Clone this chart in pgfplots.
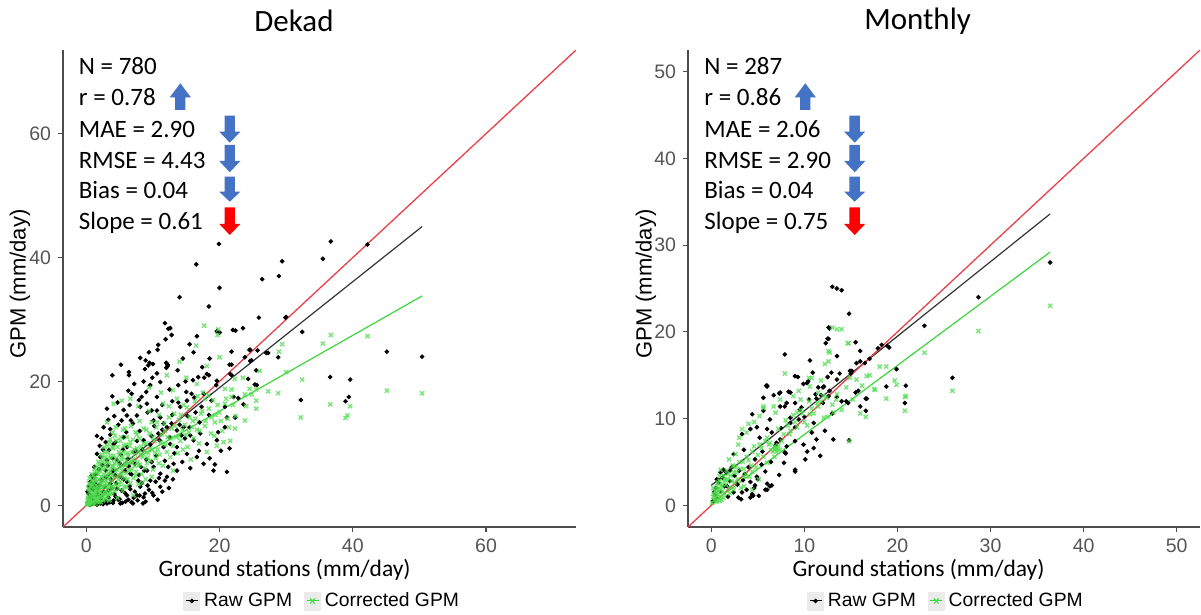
\documentclass[border=0pt]{standalone}
\usepackage{fontspec}
\setmainfont{Carlito}
\newfontfamily\arialfont{Liberation Sans}
\usepackage{pgfplots}
\pgfplotsset{compat=1.18}
\definecolor{axgray}{HTML}{4D4D4D}
\definecolor{tickgray}{HTML}{555555}
\definecolor{ptgreen}{HTML}{4CDC4C}
\definecolor{lngreen}{HTML}{3CD63C}
\definecolor{refred}{HTML}{E8414A}
\definecolor{lnblack}{HTML}{333333}
\definecolor{arrowblue}{HTML}{4472C4}
\definecolor{keybg}{HTML}{EBEBEB}

\newcommand{\annfont}{\fontsize{12.5bp}{14bp}\selectfont}
% arrows: colour, x centre, top, head base, tip (picture px)
\newcommand{\downarr}[5]{\fill[#1] ({#2-5.2},#3) -- ({#2+5.2},#3) -- ({#2+5.2},#4) -- ({#2+10.5},#4) -- (#2,#5) -- ({#2-10.5},#4) -- ({#2-5.2},#4) -- cycle;}

\pgfplotsset{
  panel/.style={
    scale only axis, height=238.5bp,
    axis x line*=bottom, axis y line*=left,
    axis line style={-, draw=axgray, line width=0.75bp},
    tick align=outside, major tick length=2.5bp,
    tick style={draw=axgray, line width=0.6bp},
    ticklabel style={font=\arialfont\fontsize{9.75bp}{11bp}\selectfont, text=tickgray},
    /pgf/number format/assume math mode=true,
    legend style={draw=none, fill=none, legend columns=2, anchor=west,
      inner sep=0pt, font=\arialfont\fontsize{9.65bp}{11bp}\selectfont,
      /tikz/every even column/.append style={column sep=4bp}},
    legend cell align=left,
  },
  rawpts/.style={only marks, mark=*, mark size=0.95bp, mark options={draw=none, fill=black}, forget plot},
  corpts/.style={only marks, mark=x, mark size=1.45bp, mark options={draw=ptgreen, line width=0.7bp, draw opacity=0.75}, forget plot},
  rawkey/.style={legend image code/.code={
    \fill[keybg] (0bp,-4.5bp) rectangle (8bp,4.5bp);
    \draw[black, line width=0.5bp] (1bp,0bp) -- (7bp,0bp);
    \fill[black] (4bp,0bp) circle (0.95bp);}},
  corkey/.style={legend image code/.code={
    \fill[keybg] (0bp,-4.5bp) rectangle (8bp,4.5bp);
    \draw[lngreen, line width=0.5bp] (1bp,0bp) -- (7bp,0bp);
    \draw[ptgreen, line width=0.55bp] (2.8bp,-1.3bp) -- (5.2bp,1.3bp) (2.8bp,1.3bp) -- (5.2bp,-1.3bp);}},
}

\begin{document}
\begin{tikzpicture}
\useasboundingbox (0bp,0bp) rectangle (600.5bp,-307.5bp);

% ---------------- Dekad ----------------
\begin{axis}[panel, at={(31.5bp,-263.5bp)}, anchor=south west, width=256.5bp,
  xmin=-3.5, xmax=73.5, ymin=-3.5, ymax=73.5,
  xtick={0,20,40,60}, ytick={0,20,40,60},
  legend style={at={(axis description cs:0.234,-0.155)}}]
\addplot[rawpts] coordinates {
(19.9,42.2) (36.7,42.6) (42.2,42.1) (16.5,38.9) (29.4,39.4) (35.5,39.8) (20.0,35.1) (28.9,37.0)
(26.4,36.5) (14.0,33.6) (18.4,32.1) (25.9,30.3) (29.9,30.3) (11.8,29.4) (12.3,28.5) (12.6,28.6)
(12.8,27.5) (11.9,26.8) (19.6,28.1) (20.0,27.9) (22.0,28.3) (22.4,28.2) (23.5,28.6) (16.6,27.3)
(15.5,26.0) (10.8,25.9) (10.7,25.1) (9.4,24.7) (8.1,23.8) (8.9,23.4) (9.5,23.0) (10.0,22.8)
(9.3,22.6) (5.2,22.7) (12.0,23.0) (12.2,22.5) (14.5,23.7) (16.1,24.7) (17.4,22.3) (18.5,23.7)
(21.8,24.8) (21.8,22.7) (23.8,23.9) (24.6,25.1) (24.6,23.3) (25.7,25.0) (27.3,24.6) (28.8,23.9)
(32.4,28.0) (45.1,24.8) (50.4,24.0)
(30.0,30.4) (24.5,25.1) (27.0,24.6) (24.8,23.4) (25.5,21.8) (24.3,20.4) (25.3,19.5) (25.6,19.4)
(22.8,17.3) (23.6,16.3) (22.4,14.2) (32.2,17.0) (36.6,20.7) (39.6,20.3) (39.4,17.5) (38.9,16.8)
(3.9,21.0) (6.4,21.5) (6.4,21.0) (8.8,22.0) (10.6,21.3) (12.2,22.7) (12.0,22.2)
(6.3,18.5) (6.8,18.0) (9.0,18.3) (9.6,19.4) (11.1,19.9) (10.6,17.5) (8.3,17.5) (12.5,18.7)
(13.8,19.4) (15.0,18.3) (16.0,20.2) (17.7,20.6) (18.4,21.0) (19.5,19.4) (21.5,22.7) (21.8,21.0)
(3.1,15.6) (3.6,12.3) (5.3,13.7) (6.1,14.5) (6.7,13.7) (7.6,14.5) (8.1,15.9) (9.1,16.4)
(9.8,15.3) (10.6,15.3) (10.1,13.7) (11.1,14.2) (11.6,13.2) (12.1,12.6) (12.8,13.2) (13.6,12.1)
(14.6,12.6) (14.3,11.3) (15.6,11.3) (16.1,10.5) (17.1,11.6) (18.1,9.9) (19.6,10.5) (21.1,14.2)
(22.3,14.2) (19.8,11.8) (20.8,12.6) (19.3,6.6) (21.1,5.4) (19.1,5.6) (17.6,6.7) (16.6,7.8)
(15.1,8.3) (13.1,6.7) (13.6,5.6) (12.1,4.6) (11.1,5.1) (10.1,6.2) (9.1,5.6) (9.6,4.0)
(8.1,3.0) (8.8,1.9) (7.6,1.6) (6.1,1.6) (5.1,0.3) (4.1,0.8) (3.1,0.3) (2.1,0.3) (1.3,0.3)
(6.8,0.5) (8.6,1.3) (10.1,1.6)
(2.6,12.6) (2.3,10.8) (4.1,9.9) (5.6,11.0) (6.1,9.4) (7.1,8.6) (8.6,10.5) (1.6,8.3) (3.1,7.3)
(4.6,7.3) (5.8,5.6) (6.6,5.1) (7.3,6.7) (5.1,4.6) (3.6,3.5) (2.3,4.0) (1.1,3.0) (1.6,1.9)
(2.6,2.1) (4.6,2.7) (6.1,3.8) (11.1,3.0) (11.6,9.4) (12.6,9.9) (13.6,9.4) (14.1,15.9)
(15.1,16.9) (15.8,18.0) (17.3,15.9) (17.6,18.0) (18.8,16.9) (20.8,15.9) (22.1,17.5)
(16.8,20.7) (18.1,21.2) (19.6,20.1) (21.6,21.2)
(0.3,0.5) (0.5,1.2) (0.8,0.2) (1.0,2.5) (1.2,0.8) (1.5,1.6) (1.8,0.4) (2.0,3.2) (2.2,1.0)
(2.5,0.2) (2.8,2.0) (3.0,4.5) (3.3,1.3) (3.5,0.5) (3.8,2.8) (4.0,5.6) (4.2,1.8) (4.5,3.6)
(4.8,0.9) (5.0,6.8) (5.3,2.4) (5.6,4.2) (5.9,0.6) (6.2,7.5) (6.5,3.1) (6.8,5.0) (7.1,1.2)
(7.4,8.8) (7.8,4.0) (8.2,6.2) (8.5,0.3) (9.0,7.4) (9.4,2.5) (9.8,11.2) (10.5,8.0) (11.0,10.5)
(11.8,7.2) (12.5,11.0) (13.2,8.4) (14.0,13.0) (14.8,10.8) (15.5,12.6) (0.6,3.8) (1.4,5.0)
(2.4,6.5) (3.4,8.9) (4.4,10.2) (0.2,2.2) (1.1,4.4) (2.1,7.8) (3.6,11.4) (4.8,13.0) (5.5,9.0)
(6.0,11.8) (7.0,13.2) (8.0,12.0) (9.2,15.0) (10.2,12.8) (0.4,1.8) (0.7,2.9) (1.3,3.6)
(1.7,2.7) (2.9,5.6) (3.2,6.4) (3.9,7.6) (4.3,4.9) (5.2,8.2) (6.4,6.3) (7.6,10.4) (8.4,9.0)
(9.6,9.8) (10.8,11.6) (11.4,12.2) (12.9,14.6) (13.8,16.6) (15.2,14.4) (16.4,15.0) (17.0,13.4)
(18.4,14.6) (16.2,17.4) (0.9,1.4) (2.7,3.0) (3.7,4.2)
(4.0,0.4) (4.4,1.4) (5.0,1.0) (5.4,0.4) (5.8,2.0) (6.3,0.9) (6.6,2.6) (7.0,0.3) (7.3,2.2)
(7.7,0.8) (8.0,1.6) (8.3,3.6) (8.9,0.6) (9.2,3.2) (9.9,2.0) (10.4,3.8) (10.7,0.9) (11.4,2.2)
(11.8,4.0) (12.4,2.8) (13.0,4.2) (7.9,4.9) (8.7,5.6) (9.8,7.0) (10.9,4.4) (12.3,6.2) (14.4,7.0)
(15.6,6.0) (16.9,8.8) (18.5,7.6) (20.2,8.8) (21.5,9.2) (0.5,0.1) (1.0,0.9) (1.6,0.1) (2.3,1.6)
(2.9,0.7) (3.3,2.4) (0.4,3.0) (0.8,4.8) (1.2,6.2) (1.9,5.8) (2.5,9.0) (2.9,10.2) (3.3,13.8)
(4.2,14.4) (4.7,16.6) (5.6,15.4) (6.5,16.2) (7.2,19.6) (7.9,17.0) (8.6,20.0) (9.9,20.6)
(11.4,16.2) (12.9,16.8) (13.7,21.8) (14.9,20.0) (2.0,9.6) (1.6,11.2) (3.9,17.6)
};
\addplot[corpts] coordinates {
(17.7,29.0) (19.7,27.5) (19.8,28.4) (16.5,25.8) (14.0,23.2) (20.0,23.9) (18.1,22.5) (29.4,26.0)
(28.9,24.8) (35.5,26.1) (36.7,27.5) (42.2,27.3) (26.0,21.7) (30.0,21.5) (32.4,20.3) (22.3,20.4)
(23.5,20.6) (21.8,18.7) (24.5,18.8) (25.5,18.7) (27.3,18.4) (28.8,18.1) (23.8,17.9) (24.8,17.9)
(25.5,16.9) (21.8,17.5) (25.5,15.6) (24.0,16.0) (23.8,13.7) (22.4,14.4) (22.3,12.4) (32.2,14.2)
(36.6,16.3) (38.9,14.1) (39.2,14.5) (39.6,16.0) (45.1,18.5) (50.4,18.1)
(4.1,16.4) (3.1,13.4) (5.3,16.9) (6.6,17.2) (12.1,21.0) (16.6,19.6) (9.4,19.0) (11.2,18.2)
(7.8,16.0) (13.0,18.6) (15.0,20.6) (17.8,17.2) (19.4,14.6) (20.8,16.4)
(0.1,0.3) (0.2,0.8) (0.3,1.5) (0.4,0.5) (0.5,2.2) (0.6,1.0) (0.7,3.0) (0.8,0.3) (0.9,1.8)
(1.0,2.6) (1.1,3.6) (1.2,0.9) (1.3,1.5) (1.4,4.2) (1.5,2.0) (1.6,0.6) (1.7,3.1) (1.8,5.0)
(1.9,1.2) (2.0,2.4) (2.1,3.8) (2.2,0.5) (2.3,4.6) (2.4,1.7) (2.5,5.8) (2.6,3.0) (2.7,2.1)
(2.8,6.6) (2.9,1.0) (3.0,4.0) (3.1,7.2) (3.2,2.6) (3.3,5.2) (3.4,0.8) (3.5,3.4) (3.6,8.0)
(3.7,6.0) (3.8,1.9) (3.9,4.8) (4.0,9.2) (4.1,3.0) (4.2,6.8) (4.3,2.2) (4.4,5.4) (4.5,10.4)
(4.6,7.6) (4.7,1.2) (4.8,4.2) (4.9,8.6) (5.0,3.4) (5.1,6.2) (5.2,11.0) (5.3,5.0) (5.4,2.4)
(5.5,7.8) (5.6,9.6) (5.7,4.4) (5.8,12.4) (5.9,6.6) (6.0,3.0) (6.2,8.4) (6.4,5.6) (6.6,10.2)
(6.8,7.0) (7.0,1.6) (7.2,9.0) (7.4,4.8) (7.6,11.4) (7.8,6.4) (8.0,13.6) (8.2,8.0) (8.4,3.6)
(8.6,10.0) (8.8,6.0) (9.0,12.2) (9.2,7.6) (9.4,15.2) (9.6,9.2) (9.8,4.6) (10.0,11.0) (10.3,8.4)
(10.6,13.4) (10.9,6.8) (11.2,10.2) (11.5,16.4) (11.8,12.0) (12.1,8.6) (12.4,14.2) (12.7,10.8)
(13.0,5.6) (13.3,12.8) (13.6,17.2) (13.9,11.2) (14.2,14.6) (14.5,9.0) (14.8,13.0) (15.1,15.8)
(15.4,11.8) (15.7,7.4) (16.0,13.6) (16.3,16.8) (16.6,12.2) (16.9,10.0) (17.2,14.8) (17.5,18.2)
(17.8,12.8) (18.1,8.6) (18.4,15.6) (18.7,11.6) (19.0,17.0) (19.3,13.4) (19.6,9.6) (20.0,15.0)
(20.4,12.0) (20.8,18.8) (21.2,14.0) (21.6,10.4) (22.0,16.2)
(0.15,0.1) (0.35,0.2) (0.55,0.7) (0.75,1.4) (0.95,0.4) (1.15,2.0) (1.35,0.2) (1.55,1.1)
(1.75,2.3) (1.95,0.5) (2.15,1.5) (2.35,2.9) (2.55,0.9) (2.75,4.2) (2.95,3.5) (3.15,1.5)
(3.35,4.4) (3.55,2.2) (3.75,3.0) (3.95,6.4) (0.25,1.2) (0.45,2.6) (0.65,3.4) (0.85,4.0)
(1.05,4.8) (1.25,5.4) (1.6,6.2) (2.0,6.8) (2.4,7.6) (2.8,8.6) (3.2,9.6) (3.6,10.6) (4.0,11.8)
(4.4,12.6)
(0.2,0.2) (0.3,2.8) (0.4,3.6) (0.5,4.4) (0.6,0.2) (0.7,2.0) (0.8,5.0) (0.9,3.2) (1.0,0.6)
(1.0,1.2) (1.1,1.4) (1.2,3.0) (1.3,4.6) (1.3,6.0) (1.4,2.6) (1.5,0.8) (1.5,3.8) (1.6,5.4)
(1.7,1.6) (1.8,2.8) (1.8,7.0) (1.9,4.2) (2.0,1.0) (2.0,5.6) (2.1,2.2) (2.2,6.2) (2.2,3.4)
(2.3,8.2) (2.4,4.0) (2.5,1.4) (2.5,7.0) (2.6,5.0) (2.7,9.4) (2.8,3.2) (2.8,1.8) (2.9,7.8)
(3.0,2.0) (3.0,6.0) (3.1,4.8) (3.2,8.6) (3.3,3.0) (3.4,6.8) (3.5,10.2) (3.5,1.8) (3.6,5.4)
(3.7,7.6) (3.8,4.0) (3.9,9.4) (4.0,2.6) (4.0,6.2) (4.1,8.0) (4.2,4.6) (4.3,11.2) (4.4,3.4)
(4.5,7.0) (4.6,5.8) (4.7,9.4) (4.8,2.8) (4.9,6.6) (5.0,8.2) (5.0,4.8) (5.1,10.4) (5.2,3.8)
(5.3,7.4) (5.4,5.6) (5.5,12.2) (5.6,8.6) (5.7,3.0) (5.8,6.4) (5.9,9.8) (6.0,5.2) (6.0,7.2)
(6.1,11.0) (6.2,4.2) (6.3,8.0) (6.4,6.8) (6.5,9.6) (6.6,3.6) (6.7,12.8) (6.8,5.8) (6.9,8.6)
(7.0,7.4) (7.0,10.6) (7.1,4.4) (7.2,6.4) (7.3,8.2) (7.4,11.8) (7.5,5.4) (7.6,9.2) (7.7,7.0)
(7.8,3.4) (7.9,8.6) (8.0,10.8) (8.0,6.6) (8.2,9.4) (8.3,5.0) (8.5,7.8) (8.6,12.4) (8.7,8.8)
(8.9,4.2) (9.0,10.0) (9.1,6.8) (9.3,8.4) (9.5,11.6) (9.6,7.2) (9.8,13.4) (9.9,9.0) (10.0,5.8)
(10.2,10.4) (10.4,7.6) (10.5,12.6) (10.7,9.0) (10.9,14.6) (11.0,8.2) (11.3,11.4) (11.5,6.4)
(11.7,13.2) (11.9,9.8) (12.2,11.0) (12.4,16.0) (12.6,7.8) (12.8,12.4) (13.0,9.6) (13.2,14.8)
(13.5,11.0) (13.7,8.4) (13.9,13.8) (14.1,10.4) (14.4,12.2) (14.6,16.2) (14.9,11.4) (15.2,9.4)
(15.5,14.2) (15.8,12.6) (16.1,10.8) (16.4,14.0) (16.7,17.6) (17.0,12.0) (17.4,15.2) (17.9,13.6)
(18.3,17.8) (18.8,14.2) (19.2,11.2) (19.7,16.2) (20.2,13.6) (20.6,10.2) (21.0,17.2) (21.4,12.6)
};
\addplot[lngreen, line width=0.6bp, forget plot] coordinates {(0,3.0) (50.4,33.8)};
\addplot[lnblack, line width=0.6bp, forget plot] coordinates {(0,1.9) (50.4,45.0)};
\addplot[refred, line width=0.65bp, forget plot] coordinates {(-3.5,-3.5) (73.5,73.5)};
\addlegendimage{rawkey}\addlegendentry{Raw GPM}
\addlegendimage{corkey}\addlegendentry{Corrected GPM}
\end{axis}

% ---------------- Monthly ----------------
\begin{axis}[panel, at={(344bp,-263.5bp)}, anchor=south west, width=256bp,
  xmin=-2.5, xmax=52.5, ymin=-2.5, ymax=52.5,
  xtick={0,10,20,30,40,50}, ytick={0,10,20,30,40,50},
  legend style={at={(axis description cs:0.232,-0.155)}}]
\addplot[rawpts] coordinates {
(6.0,13.8) (7.3,12.9) (8.3,13.1) (10.3,14.1) (11.2,12.8) (12.1,13.7) (12.6,12.6) (4.4,10.5)
(5.6,10.9) (6.3,9.9) (7.4,11.4) (8.1,11.8) (8.5,9.5) (9.4,9.9) (4.2,8.8) (3.3,8.2) (4.9,9.0)
(6.0,8.8) (6.5,8.4) (5.2,7.8) (6.9,6.9) (7.4,7.6) (8.1,6.8) (9.0,7.4) (9.9,7.0) (10.8,8.4)
(11.3,7.6) (12.2,8.6) (13.1,7.6) (2.4,5.9) (3.5,6.4) (4.7,5.3) (5.4,4.7) (5.8,3.9) (4.9,3.3)
(4.2,2.7) (4.7,2.3) (3.8,1.8) (6.0,1.8) (6.5,2.3) (3.3,1.5) (2.9,0.9) (2.4,1.5) (1.7,2.2)
(1.0,3.8) (1.3,4.1) (2.0,4.0) (0.6,3.0) (0.3,1.5) (9.0,3.9) (7.8,4.9) (7.9,6.1) (10.1,5.3)
(10.3,6.2) (11.0,6.6) (11.7,5.7) (5.1,1.1) (4.4,1.3)
(13.0,25.2) (13.5,25.0) (14.0,24.8) (14.8,22.1) (12.7,20.4) (12.6,19.2) (12.3,18.7) (15.5,18.8)
(16.0,17.8) (14.9,15.5) (15.6,16.4) (7.9,17.4) (10.6,16.7) (17.9,18.1) (18.3,18.5) (18.9,18.4)
(19.1,18.2) (17.0,16.9) (22.9,20.7) (28.7,24.0) (19.9,15.7) (25.9,14.7) (20.9,13.8) (20.8,11.8)
(18.8,13.7) (6.0,13.7) (5.6,12.4) (6.7,12.7) (7.4,13.0) (9.0,14.9) (9.3,14.8) (9.9,14.0)
(10.4,14.3) (10.9,15.3) (12.5,14.8) (12.9,15.3) (13.8,15.2) (15.1,15.5) (12.0,13.6) (12.7,13.2)
(11.8,12.7) (11.3,12.3) (13.5,12.5) (15.8,13.2) (16.7,12.3) (16.0,11.4) (14.5,12.0) (8.5,13.0)
(9.0,11.8) (9.7,11.3) (7.9,11.4)
(36.4,28.0) (5.9,13.8) (16.6,10.9) (16.6,12.3) (16.0,16.6) (14.7,11.8) (14.8,7.5) (13.5,17.2)
(12.5,19.2) (12.6,20.5) (9.0,4.1) (7.3,3.5) (6.3,2.2) (4.5,1.1) (5.8,1.8)
(0.2,0.5) (0.4,1.2) (0.5,2.0) (0.6,0.8) (0.8,2.6) (1.0,1.6) (1.2,3.2) (1.4,2.2) (1.6,3.8)
(1.8,1.0) (2.0,2.8) (2.2,4.4) (2.5,3.4) (2.8,2.4) (3.0,4.0) (3.2,0.7) (3.4,2.9) (3.6,3.6)
(4.0,4.4) (4.2,0.9) (4.6,2.0) (5.0,3.0) (5.5,6.2) (6.0,2.5) (6.4,5.0) (7.0,7.2) (7.5,8.9)
(8.0,6.0) (8.5,10.1) (9.0,9.0) (9.5,11.0) (10.0,10.2) (10.5,12.2) (11.0,9.5) (11.5,13.6)
(12.0,11.8) (13.0,10.6) (13.5,14.5) (14.0,12.0) (15.0,15.2) (15.5,13.0) (16.5,16.4)
};
\addplot[corpts] coordinates {
(3.3,8.8) (4.0,9.4) (6.9,10.7) (5.2,10.3) (6.3,7.2) (6.9,6.6) (7.4,6.4) (6.8,5.6) (6.0,4.9)
(2.6,5.9) (1.0,4.1) (1.7,3.0) (2.4,4.5) (3.5,3.3) (4.4,3.9) (5.1,3.0) (8.5,8.6) (10.3,9.2)
(10.6,10.5) (12.1,10.1) (11.4,11.8) (13.1,10.7) (13.4,12.2) (9.2,10.7) (9.6,12.2) (7.4,12.2)
(5.6,11.2) (2.9,7.0) (1.9,5.3) (0.6,1.8) (2.4,1.8) (3.5,2.2) (4.4,1.8)
(13.0,20.5) (13.5,20.3) (14.0,20.3) (14.7,18.7) (12.6,17.8) (12.2,16.3) (7.9,15.2) (10.8,14.7)
(28.7,20.1) (22.9,17.6) (25.9,13.2) (19.9,13.9) (20.9,12.6) (17.6,13.3) (18.1,16.0) (18.8,16.0)
(15.6,14.5) (16.7,14.9) (14.9,14.7) (10.5,14.7) (5.6,11.4) (6.7,11.4) (10.6,13.7) (11.5,13.0)
(36.4,23.0) (20.8,10.9) (20.8,12.5) (19.7,14.4) (18.8,12.3) (16.6,10.2) (16.0,10.6) (14.8,7.4)
(17.5,13.4) (12.7,17.6) (12.6,16.6) (14.7,18.7)
(0.1,0.3) (0.2,1.0) (0.3,0.6) (0.4,1.6) (0.5,0.4) (0.6,2.2) (0.7,1.2) (0.8,0.8) (0.9,2.8)
(1.0,1.8) (1.1,0.6) (1.2,2.4) (1.3,3.4) (1.4,1.4) (1.5,2.9) (1.7,4.0) (1.9,2.0) (2.1,3.4)
(2.3,4.6) (2.5,2.6) (2.7,3.8) (3.0,5.0) (3.2,2.0) (3.5,4.2) (3.8,5.6) (4.1,3.3) (4.4,6.2)
(4.8,4.4) (5.2,7.0) (5.6,5.6) (6.0,7.8) (6.4,6.4) (6.8,6.8) (7.0,6.2) (7.2,8.8) (7.6,7.4)
(8.0,9.8) (8.4,8.2) (8.8,10.4) (9.2,9.0) (9.6,11.0) (10.0,9.6) (10.5,12.0) (11.0,10.6)
(11.5,11.4) (12.0,12.6) (12.5,10.2) (13.0,11.6) (13.5,12.8) (14.0,11.0) (14.5,13.6)
(6.8,6.4) (7.0,6.7) (7.2,6.9) (6.6,6.2) (7.1,6.5) (0.3,1.3) (0.5,0.9) (0.7,1.9) (0.9,0.5)
(0.2,2.0) (0.4,0.9) (0.5,1.4) (0.6,0.5) (0.7,2.6) (0.8,1.5) (0.9,3.4) (1.0,1.0) (1.1,2.2)
(1.2,1.6) (1.3,0.9) (1.4,3.0) (1.6,2.4) (1.8,3.6) (2.0,1.4) (2.2,2.8) (2.4,3.8) (2.6,4.4)
(2.8,3.0) (3.1,4.2) (3.4,5.0) (3.7,3.6) (4.0,5.2) (4.3,4.6) (4.6,6.8) (5.0,5.8) (5.4,6.6)
(5.8,7.4) (6.2,7.0) (7.8,8.2) (8.2,9.2) (9.0,9.6) (9.8,10.6) (10.8,11.2) (11.8,12.0)
(12.4,12.4) (3.0,7.8) (3.8,8.4) (4.6,9.6) (8.8,12.6) (9.4,13.2) (11.8,14.4) (15.2,12.2)
(16.2,13.8) (17.0,15.0)
};
\addplot[lngreen, line width=0.6bp, forget plot] coordinates {(0,0.2) (36.4,29.2)};
\addplot[lnblack, line width=0.6bp, forget plot] coordinates {(0,2.3) (36.4,33.6)};
\addplot[refred, line width=0.65bp, forget plot] coordinates {(-2.5,-2.5) (52.5,52.5)};
\addlegendimage{rawkey}\addlegendentry{Raw GPM}
\addlegendimage{corkey}\addlegendentry{Corrected GPM}
\end{axis}

% ---------------- titles, labels, statistics ----------------
\begin{scope}[x=0.5bp, y=-0.5bp]
\node[font=\fontsize{15.5bp}{18bp}\selectfont] at (294,21) {Dekad};
\node[font=\fontsize{15.5bp}{18bp}\selectfont] at (917.6,21) {Monthly};
\node[font=\fontsize{11.75bp}{14bp}\selectfont] at (284.7,570) {Ground stations (mm/day)};
\node[font=\fontsize{11.75bp}{14bp}\selectfont] at (918.6,570) {Ground stations (mm/day)};
\node[font=\arialfont\fontsize{11bp}{13bp}\selectfont, rotate=90] at (20,284) {GPM (mm/day)};
\node[font=\arialfont\fontsize{11bp}{13bp}\selectfont, rotate=90] at (646,284) {GPM (mm/day)};

\foreach \xx/\a/\b/\c/\d/\e/\f in {78.5/780/0.78/2.90/4.43/0.04/0.61, 704/287/0.86/2.06/2.90/0.04/0.75}{
  \node[anchor=base west, inner sep=0pt, font=\annfont] at (\xx,75) {N = \a};
  \node[anchor=base west, inner sep=0pt, font=\annfont] at (\xx,106) {r = \b};
  \node[anchor=base west, inner sep=0pt, font=\annfont] at (\xx,137.7) {MAE = \c};
  \node[anchor=base west, inner sep=0pt, font=\annfont] at (\xx,169) {RMSE = \d};
  \node[anchor=base west, inner sep=0pt, font=\annfont] at (\xx,198.3) {Bias = \e};
  \node[anchor=base west, inner sep=0pt, font=\annfont] at (\xx,230) {Slope = \f};
}
% up arrows (r)
\downarr{arrowblue}{180.3}{110}{97.3}{83.3}
\downarr{arrowblue}{805.3}{110}{97.3}{83.3}
% down arrows
\foreach \cx in {229.8, 854.7}{
  \downarr{arrowblue}{\cx}{115.7}{131.7}{142.7}
  \downarr{arrowblue}{\cx}{145}{161}{172.3}
  \downarr{arrowblue}{\cx}{176.7}{191.7}{201.7}
  \downarr{red}{\cx}{207.3}{224}{235}
}
\end{scope}
\end{tikzpicture}
\end{document}
